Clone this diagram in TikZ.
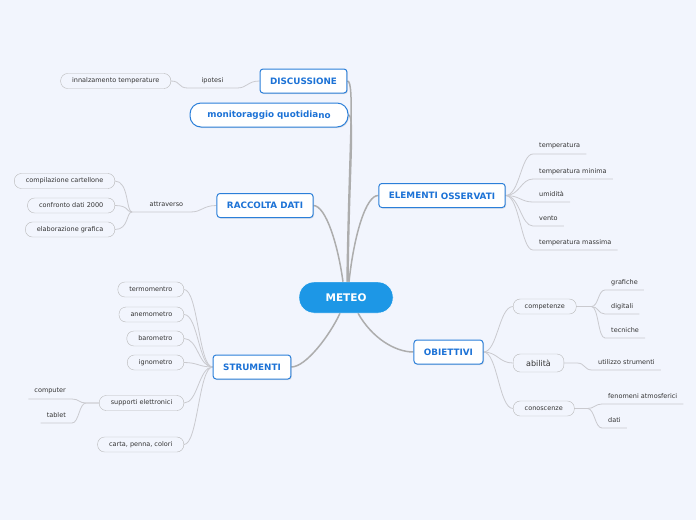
\documentclass[tikz,border=0pt]{standalone}
\usepackage{fontspec}
\setmainfont{DejaVu Sans}
\usetikzlibrary{shadows,backgrounds}
\definecolor{bgcol}{HTML}{F2F5FD}
\definecolor{rootblue}{HTML}{1D97E6}
\definecolor{topicblue}{HTML}{2B7FD9}
\definecolor{topictext}{HTML}{1C72D6}
\definecolor{mainline}{HTML}{ADADAD}
\definecolor{subline}{HTML}{CACACF}
\definecolor{leaftext}{HTML}{333333}

\begin{document}
\begin{tikzpicture}[x=1pt, y=-1pt,
  root/.style={draw=white, fill=rootblue, text=white, rounded corners=15pt,
               minimum width=94pt, minimum height=31pt,
               font=\fontsize{10.5}{12}\selectfont\bfseries},
  topic/.style={draw=topicblue, line width=1pt, fill=white, text=topictext,
                rounded corners=3pt, minimum height=24pt, inner xsep=10pt,
                font=\fontsize{8.8}{10}\selectfont\bfseries,
                drop shadow={opacity=0.2, shadow xshift=1pt, shadow yshift=-1pt}},
  pill/.style={draw=gray!55, rounded corners=7pt, minimum height=15pt,
               inner xsep=11.5pt, inner ysep=0pt, text=leaftext,
               font=\fontsize{6.5}{7}\selectfont},
  leaf/.style={text=leaftext, minimum height=15pt, inner xsep=6pt, inner ysep=0pt,
               font=\fontsize{6.5}{7}\selectfont},
  trunk/.style={draw=mainline, line width=1.5pt},
  twig/.style={draw=subline, line width=0.8pt},
]
  % central topic
  \node[root] (meteo) at (346,297.5) {METEO};

  % main topics
  \node[topic] (disc) at (303.5,81) {DISCUSSIONE};
  \node[topic, rounded corners=11pt, minimum width=158pt] (moni) at (269,115)
    {monitoraggio quotidia\raisebox{-1pt}{no}};
  \node[topic] (racc) at (265,205.5) {RACCOLTA DATI};
  \node[topic] (elem) at (442,195.5) {ELEMENTI \raisebox{-1pt}{OSSERVATI}};
  \node[topic] (stru) at (252,367) {STRUMENTI};
  \node[topic] (obie) at (448.5,352) {OBIETTIVI};

  % discussione
  \node[leaf, minimum width=49pt, anchor=south] (ipot) at (212.5,88) {ipotesi};
  \node[pill, anchor=east] (innal) at (171,81) {innalzamento temperature};

  % raccolta dati
  \node[leaf, text width=44pt, align=right, inner xsep=7pt, anchor=south west]
    (attr) at (132,212) {attraverso};
  \node[pill, anchor=east] (compil) at (115,181) {compilazione cartellone};
  \node[pill, anchor=east] (confr) at (115,205.5) {confronto dati 2000};
  \node[pill, anchor=east] (elab) at (115,229.5) {elaborazione grafica};

  % elementi osservati
  \node[leaf, anchor=south west] (temp) at (533,154) {temperatura};
  \node[leaf, anchor=south west] (tmin) at (533,179) {temperatura minima};
  \node[leaf, anchor=south west] (umid) at (533,202) {umidità};
  \node[leaf, anchor=south west] (vento) at (533,226) {vento};
  \node[leaf, anchor=south west] (tmax) at (533,250) {temperatura massima};

  % strumenti
  \node[pill, anchor=east] (termo) at (184,289.5) {termomentro};
  \node[pill, anchor=east] (anemo) at (184,314.5) {anemometro};
  \node[pill, anchor=east] (baro) at (184,338.5) {barometro};
  \node[pill, anchor=east] (igno) at (184,362.5) {ignometro};
  \node[pill, anchor=east] (supp) at (184,403) {supporti elettronici};
  \node[pill, anchor=east] (carta) at (184,444.5) {carta, penna, colori};
  \node[leaf, anchor=south east] (comp) at (72,399) {computer};
  \node[leaf, anchor=south east] (tabl) at (72,423) {tablet};

  % obiettivi
  \node[pill, anchor=west] (compet) at (513,306.5) {competenze};
  \node[pill, anchor=west, minimum height=18pt, inner xsep=13pt,
        font=\fontsize{8}{10}\selectfont] (abil) at (513,363) {abilità};
  \node[pill, anchor=west] (conos) at (513,408.5) {conoscenze};
  \node[leaf, anchor=south west] (graf) at (605,290) {grafiche};
  \node[leaf, anchor=south west] (digit) at (605,314) {digitali};
  \node[leaf, anchor=south west] (tecn) at (605,338) {tecniche};
  \node[leaf, anchor=south west] (utiliz) at (592,370) {utilizzo strumenti};
  \node[leaf, anchor=south west] (fenom) at (602,404) {fenomeni atmosferici};
  \node[leaf, anchor=south west] (dati) at (602,428) {dati};

  \begin{scope}[on background layer]
    \fill[bgcol] (0,0) rectangle (696,520);

    % trunks from the centre
    \draw[trunk] ([xshift=1pt]meteo.north) .. controls (349,150) and (355,81) .. (disc.east);
    \draw[trunk] ([xshift=2pt]meteo.north) .. controls (349,170) and (355,115) .. (moni.east);
    \draw[trunk] ([xshift=-3pt]meteo.north) .. controls (338,245) and (326,206) .. (racc.east);
    \draw[trunk] ([xshift=3pt]meteo.north) .. controls (354,235) and (366,195) .. (elem.west);
    \draw[trunk] ([xshift=-6pt]meteo.south) .. controls (330,335) and (306,367) .. (stru.east);
    \draw[trunk] ([xshift=12pt]meteo.south) .. controls (372,338) and (395,352) .. (obie.west);

    % twigs
    \draw[twig] (disc.west) .. controls +(-12,0) and +(10,0) .. (ipot.south east)
      -- (ipot.south west) .. controls +(-10,0) and +(10,0) .. (innal.east);
    \draw[twig] (racc.west) .. controls +(-14,0) and +(12,0) .. (attr.south east)
      -- (attr.south west);
    \foreach \p in {compil,confr,elab}
      \draw[twig] (attr.south west) .. controls +(-6,0) and +(14,0) .. (\p.east);
    \foreach \l in {temp,tmin,umid,vento,tmax}
      \draw[twig] (elem.east) .. controls +(14,0) and +(-12,0) .. (\l.south west)
        -- (\l.south east);
    \foreach \p in {termo,anemo,baro,igno,supp,carta}
      \draw[twig] (stru.west) .. controls +(-14,0) and +(14,0) .. (\p.east);
    \foreach \l in {comp,tabl}
      \draw[twig] (supp.west) -- ++(-13,0) .. controls +(-7,0) and +(7,0) .. (\l.south east)
        -- (\l.south west);
    \foreach \p in {compet,abil,conos}
      \draw[twig] (obie.east) .. controls +(14,0) and +(-14,0) .. (\p.west);
    \foreach \l in {graf,digit,tecn}
      \draw[twig] (compet.east) -- ++(15,0) .. controls +(7,0) and +(-7,0) .. (\l.south west)
        -- (\l.south east);
    \draw[twig] (abil.east) -- ++(13,0) .. controls +(8,0) and +(-8,0) .. (utiliz.south west)
      -- (utiliz.south east);
    \foreach \l in {fenom,dati}
      \draw[twig] (conos.east) -- ++(13,0) .. controls +(7,0) and +(-7,0) .. (\l.south west)
        -- (\l.south east);
  \end{scope}
\end{tikzpicture}
\end{document}
